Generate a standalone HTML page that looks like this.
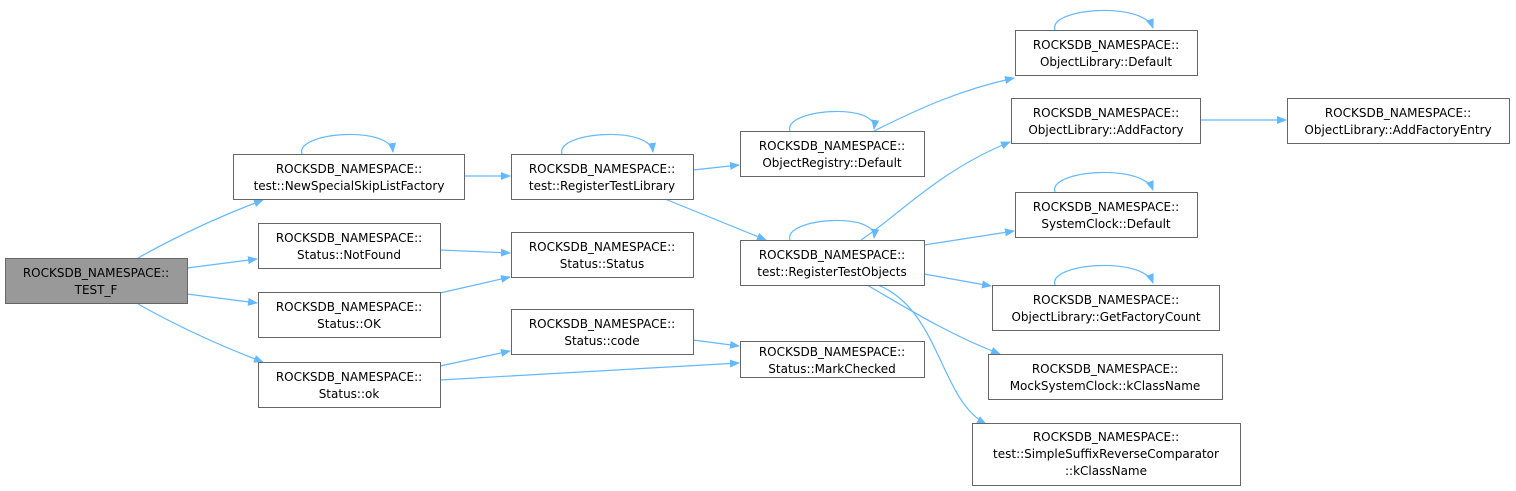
<!DOCTYPE html>
<html><head><meta charset="utf-8"><style>
html,body{margin:0;padding:0;background:#fff;width:1516px;height:491px;overflow:hidden}
text{font-family:"DejaVu Sans","Liberation Sans",sans-serif;font-size:12px;fill:#000}
</style></head><body>
<svg width="1516" height="491" viewBox="0 0 1516 491" xmlns="http://www.w3.org/2000/svg">
<defs><marker id="a" markerWidth="10" markerHeight="8" refX="9" refY="4" orient="auto" markerUnits="userSpaceOnUse"><path d="M0,0 L10,4 L0,8z" fill="#63b8ff"/></marker></defs>
<g fill="none" stroke="#63b8ff" stroke-width="1.2" marker-end="url(#a)">
<path d="M138,258 C170,240 210,220 263,200"/>
<path d="M187,268 L257,259"/>
<path d="M187,294 L257,303"/>
<path d="M138,304 C170,322 210,342 263,362"/>
<path d="M302,154 C295,132 390,125 393,152"/>
<path d="M464,176 L510,176"/>
<path d="M440,250 L510,253"/>
<path d="M440,293 L510,277"/>
<path d="M440,366 L510,351"/>
<path d="M440,380 L739,363"/>
<path d="M562,154 C555,132 650,125 653,152"/>
<path d="M693,170 L739,165"/>
<path d="M665,199 L766,240"/>
<path d="M693,340 L739,346"/>
<path d="M790,131 C783,109 878,102 874,129"/>
<path d="M874,131 C920,108 960,90 1014,78"/>
<path d="M790,240 C783,218 878,211 874,238"/>
<path d="M861,240 C900,214 940,170 1010,142"/>
<path d="M924,245 L1014,231"/>
<path d="M924,274 L991,286"/>
<path d="M867,285 C910,310 950,335 1000,354"/>
<path d="M878,285 C940,310 940,400 986,424"/>
<path d="M1055,30 C1048,8 1143,1 1153,28"/>
<path d="M1055,192 C1048,170 1143,163 1153,190"/>
<path d="M1055,285 C1048,263 1143,256 1153,283"/>
<path d="M1200,120 L1286,120"/>
</g>
<g stroke="#666" stroke-width="1" fill="#fff">
<rect x="5.5" y="258.5" width="182" height="45" fill="#999"/>
<rect x="233.5" y="154.5" width="231" height="45"/>
<rect x="258.5" y="223.5" width="182" height="45"/>
<rect x="258.5" y="292.5" width="182" height="45"/>
<rect x="258.5" y="362.5" width="182" height="45"/>
<rect x="511.5" y="154.5" width="182" height="45"/>
<rect x="511.5" y="232.5" width="182" height="45"/>
<rect x="511.5" y="309.5" width="182" height="45"/>
<rect x="740.5" y="131.5" width="184" height="45"/>
<rect x="740.5" y="240.5" width="184" height="45"/>
<rect x="740.5" y="341.5" width="184" height="36"/>
<rect x="1015.5" y="30.5" width="182" height="45"/>
<rect x="1011.5" y="98.5" width="189" height="45"/>
<rect x="1015.5" y="192.5" width="182" height="45"/>
<rect x="992.5" y="285.5" width="227" height="45"/>
<rect x="988.5" y="354.5" width="234" height="45"/>
<rect x="972.5" y="423.5" width="268" height="62"/>
<rect x="1287.5" y="98.5" width="222" height="45"/>
</g>
<g text-anchor="middle">
<text x="96" y="277">ROCKSDB_NAMESPACE::</text><text x="96" y="294">TEST_F</text>
<text x="349" y="173">ROCKSDB_NAMESPACE::</text><text x="349" y="190">test::NewSpecialSkipListFactory</text>
<text x="349" y="242">ROCKSDB_NAMESPACE::</text><text x="349" y="259">Status::NotFound</text>
<text x="349" y="311">ROCKSDB_NAMESPACE::</text><text x="349" y="328">Status::OK</text>
<text x="349" y="381">ROCKSDB_NAMESPACE::</text><text x="349" y="398">Status::ok</text>
<text x="602" y="173">ROCKSDB_NAMESPACE::</text><text x="602" y="190">test::RegisterTestLibrary</text>
<text x="602" y="251">ROCKSDB_NAMESPACE::</text><text x="602" y="268">Status::Status</text>
<text x="602" y="328">ROCKSDB_NAMESPACE::</text><text x="602" y="345">Status::code</text>
<text x="832" y="150">ROCKSDB_NAMESPACE::</text><text x="832" y="167">ObjectRegistry::Default</text>
<text x="832" y="259">ROCKSDB_NAMESPACE::</text><text x="832" y="276">test::RegisterTestObjects</text>
<text x="832" y="356">ROCKSDB_NAMESPACE::</text><text x="832" y="373">Status::MarkChecked</text>
<text x="1106" y="49">ROCKSDB_NAMESPACE::</text><text x="1106" y="66">ObjectLibrary::Default</text>
<text x="1106" y="117">ROCKSDB_NAMESPACE::</text><text x="1106" y="134">ObjectLibrary::AddFactory</text>
<text x="1106" y="211">ROCKSDB_NAMESPACE::</text><text x="1106" y="228">SystemClock::Default</text>
<text x="1106" y="304">ROCKSDB_NAMESPACE::</text><text x="1106" y="321">ObjectLibrary::GetFactoryCount</text>
<text x="1105" y="373">ROCKSDB_NAMESPACE::</text><text x="1105" y="390">MockSystemClock::kClassName</text>
<text x="1106" y="441">ROCKSDB_NAMESPACE::</text><text x="1106" y="458">test::SimpleSuffixReverseComparator</text><text x="1106" y="475">::kClassName</text>
<text x="1398" y="117">ROCKSDB_NAMESPACE::</text><text x="1398" y="134">ObjectLibrary::AddFactoryEntry</text>
</g>
</svg>
</body></html>
